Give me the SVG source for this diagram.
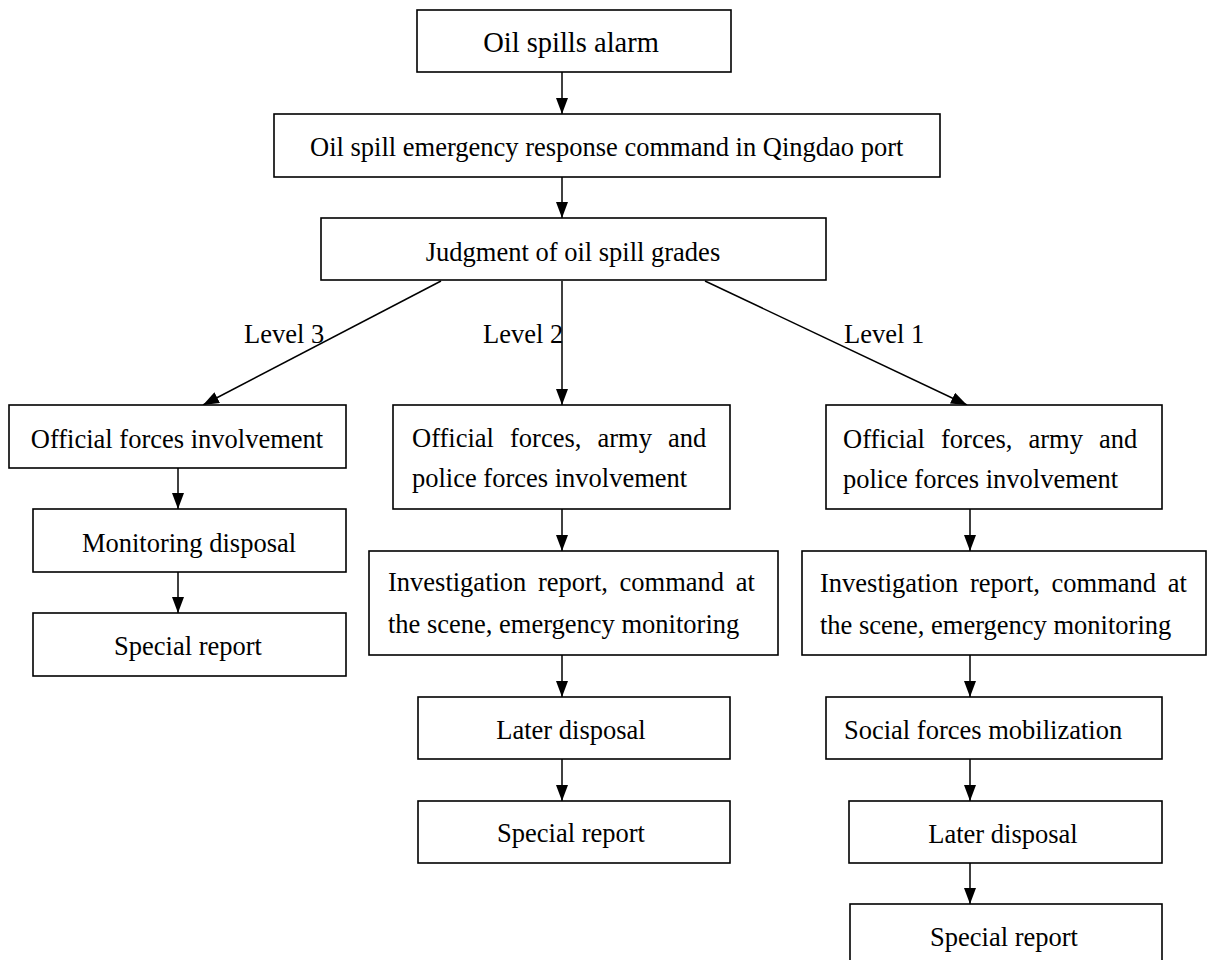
<svg xmlns="http://www.w3.org/2000/svg" width="1208" height="960" viewBox="0 0 1208 960">
  <style>
    .box { fill: #ffffff; stroke: #000000; stroke-width: 1.6; }
    .lbl { font-family: "Liberation Serif", "Times New Roman", serif; font-size: 26.5px; fill: #000000; }
    .mid { text-anchor: middle; }
    .edge { stroke: #000000; stroke-width: 1.5; fill: none; marker-end: url(#arrow); }
  </style>
  <defs>
    <marker id="arrow" markerUnits="userSpaceOnUse" markerWidth="16" markerHeight="12" refX="16" refY="6" orient="auto">
      <path d="M0,0 L16,6 L0,12 z" fill="#000000"/>
    </marker>
  </defs>
  <rect width="1208" height="960" fill="#ffffff"/>

  <!-- connectors -->
  <g id="connectors">
    <line class="edge" x1="562" y1="72" x2="562" y2="114"/>
    <line class="edge" x1="562" y1="177" x2="562" y2="218"/>
    <line class="edge" x1="441" y1="281" x2="203" y2="405"/>
    <line class="edge" x1="562" y1="281" x2="562" y2="405"/>
    <line class="edge" x1="705" y1="281" x2="967" y2="405"/>
    <line class="edge" x1="178" y1="468" x2="178" y2="509"/>
    <line class="edge" x1="178" y1="572" x2="178" y2="613"/>
    <line class="edge" x1="562" y1="509" x2="562" y2="551"/>
    <line class="edge" x1="562" y1="655" x2="562" y2="697"/>
    <line class="edge" x1="562" y1="759" x2="562" y2="801"/>
    <line class="edge" x1="970" y1="509" x2="970" y2="551"/>
    <line class="edge" x1="970" y1="655" x2="970" y2="697"/>
    <line class="edge" x1="970" y1="759" x2="970" y2="801"/>
    <line class="edge" x1="970" y1="863" x2="970" y2="904"/>
    <text class="lbl" x="244" y="343">Level 3</text>
    <text class="lbl" x="483" y="343">Level 2</text>
    <text class="lbl" x="844" y="343">Level 1</text>
  </g>

  <g id="alarm">
    <rect class="box" x="417" y="10" width="314" height="62"/>
    <text class="lbl mid" x="571" y="52" style="font-size:28.5px">Oil spills alarm</text>
  </g>
  <g id="command">
    <rect class="box" x="274" y="114" width="666" height="63"/>
    <text class="lbl" x="310" y="156">Oil spill emergency response command in Qingdao port</text>
  </g>
  <g id="judgment">
    <rect class="box" x="321" y="218" width="505" height="62"/>
    <text class="lbl mid" x="573" y="261">Judgment of oil spill grades</text>
  </g>

  <!-- level 3 branch -->
  <g id="l3-forces">
    <rect class="box" x="9" y="405" width="337" height="63"/>
    <text class="lbl mid" x="177" y="448">Official forces involvement</text>
  </g>
  <g id="l3-monitoring">
    <rect class="box" x="33" y="509" width="313" height="63"/>
    <text class="lbl mid" x="189" y="552">Monitoring disposal</text>
  </g>
  <g id="l3-report">
    <rect class="box" x="33" y="613" width="313" height="63"/>
    <text class="lbl mid" x="188" y="655">Special report</text>
  </g>

  <!-- level 2 branch -->
  <g id="l2-forces">
    <rect class="box" x="393" y="405" width="337" height="104"/>
    <text class="lbl" x="412" y="447" word-spacing="9.5">Official forces, army and</text>
    <text class="lbl" x="412" y="487">police forces involvement</text>
  </g>
  <g id="l2-investigation">
    <rect class="box" x="369" y="551" width="409" height="104"/>
    <text class="lbl" x="388" y="591" word-spacing="5">Investigation report, command at</text>
    <text class="lbl" x="388" y="633">the scene, emergency monitoring</text>
  </g>
  <g id="l2-later">
    <rect class="box" x="418" y="697" width="312" height="62"/>
    <text class="lbl mid" x="571" y="739">Later disposal</text>
  </g>
  <g id="l2-report">
    <rect class="box" x="418" y="801" width="312" height="62"/>
    <text class="lbl mid" x="571" y="842">Special report</text>
  </g>

  <!-- level 1 branch -->
  <g id="l1-forces">
    <rect class="box" x="826" y="405" width="336" height="104"/>
    <text class="lbl" x="843" y="448" word-spacing="9.5">Official forces, army and</text>
    <text class="lbl" x="843" y="488">police forces involvement</text>
  </g>
  <g id="l1-investigation">
    <rect class="box" x="802" y="551" width="404" height="104"/>
    <text class="lbl" x="820" y="592" word-spacing="5">Investigation report, command at</text>
    <text class="lbl" x="820" y="634">the scene, emergency monitoring</text>
  </g>
  <g id="l1-social">
    <rect class="box" x="826" y="697" width="336" height="62"/>
    <text class="lbl" x="844" y="739">Social forces mobilization</text>
  </g>
  <g id="l1-later">
    <rect class="box" x="849" y="801" width="313" height="62"/>
    <text class="lbl mid" x="1003" y="843">Later disposal</text>
  </g>
  <g id="l1-report">
    <rect class="box" x="850" y="904" width="312" height="63"/>
    <text class="lbl mid" x="1004" y="946">Special report</text>
  </g>
</svg>
